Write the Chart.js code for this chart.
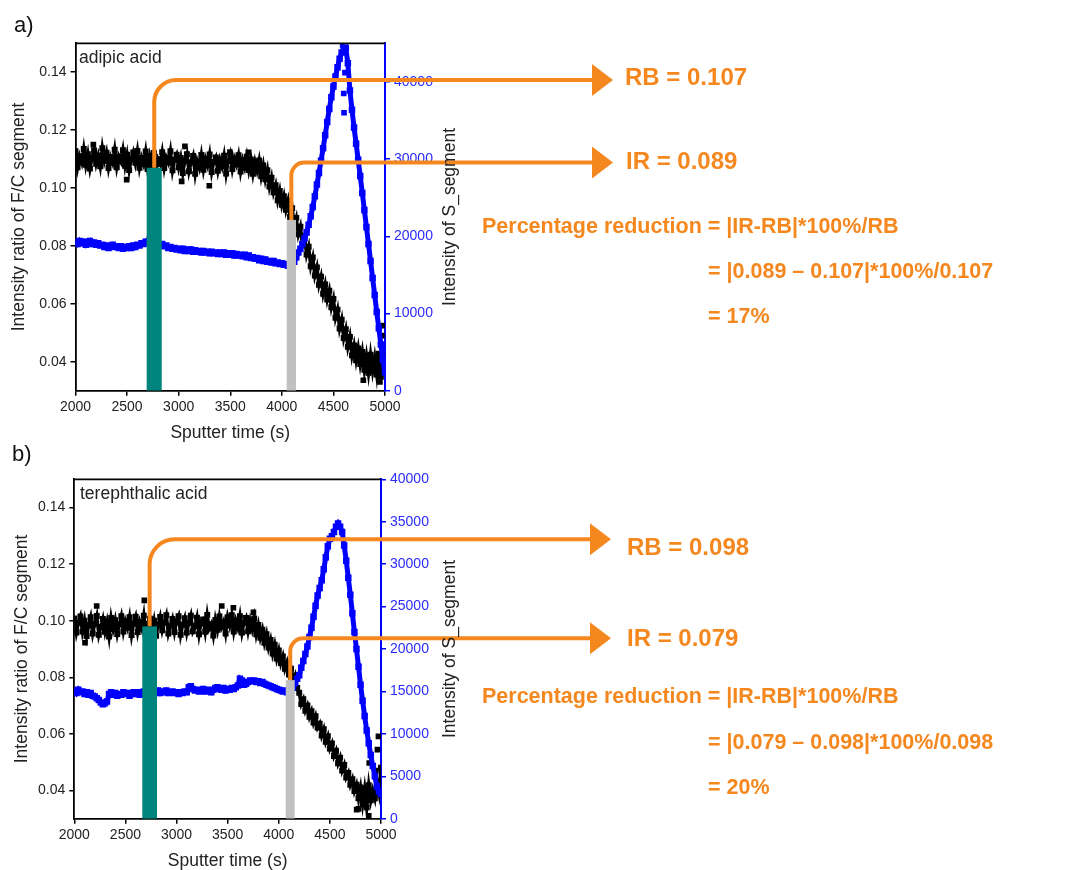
<!DOCTYPE html>
<html>
<head>
<meta charset="utf-8">
<script src="https://cdn.jsdelivr.net/npm/chart.js@4.4.1/dist/chart.umd.min.js"></script>
<style>
  body { margin: 0; background: #fff; }
  #wrap { position: relative; width: 1079px; height: 870px; }
  #wrap canvas { position: absolute; left: 0; }
</style>
</head>
<body>
<div id="wrap">
  <canvas id="panelA" width="1079" height="450" style="top:0"></canvas>
  <canvas id="panelB" width="1079" height="430" style="top:440px"></canvas>
</div>
<script>
const ORANGE = '#F5871F';
const TEAL = '#00857e';
const GREY = '#c0c0c0';
const BLUE = '#0000ff';
const FONT = '"Liberation Sans", Arial, sans-serif';

// one reading every 20 s of sputtering
const sputterTime = Array.from({ length: 151 }, (_, i) => 2000 + i * 20);

const xTicks = [2000, 2500, 3000, 3500, 4000, 4500, 5000];
const fcTicks = [0.04, 0.06, 0.08, 0.10, 0.12, 0.14];
const sTicksA = [0, 10000, 20000, 30000, 40000];
const sTicksB = [0, 5000, 10000, 15000, 20000, 25000, 30000, 35000, 40000];

// RB = ratio in the bulk, IR = ratio at the interface
const rbA = 0.107, irA = 0.089;
const rbB = 0.098, irB = 0.079;

// a) adipic acid: F/C ratio (x 10^4) and S_ intensity (counts)
const fcRatioA = [
  1127,1072,1110,1088,1135,1080,1117,1067,1104,1130,
  1084,1112,1075,1138,1094,1122,1069,1107,1087,1132,
  1072,1109,1092,1131,1077,1115,1062,1100,1123,1087,
  1128,1070,1105,1083,1126,1066,1110,1079,1121,1058,
  1100,1084,1124,1069,1106,1088,1127,1061,1098,1115,
  1072,1104,1052,1095,1117,1058,1089,1111,1049,1093,
  1070,1114,1063,1101,1078,1116,1055,1090,1106,1060,
  1098,1074,1112,1050,1093,1117,1066,1102,1081,1113,
  1057,1096,1071,1108,1062,1099,1049,1090,1060,1095,
  1041,1078,1030,1062,1005,1036,985,1010,958,990,
  942,972,925,955,900,930,872,897,840,866,
  806,833,770,797,730,760,698,726,666,694,
  635,667,615,645,588,617,552,580,515,545,
  482,512,452,486,422,456,405,446,392,434,
  372,420,362,424,368,414,356,428,348,420,
  365
];
const sIntensityA = [
  19300,19000,19400,19100,19300,18900,19200,19400,19000,19200,
  18900,19100,18800,18900,18600,18800,18500,18700,18900,18600,
  18700,18500,18700,18400,18600,18500,18700,18500,18800,18600,
  18900,18800,19100,19000,19300,19300,19600,19500,19700,19400,
  19200,18900,19000,18700,18800,18500,18600,18400,18500,18300,
  18400,18200,18400,18100,18300,18100,18300,18000,18200,18000,
  18100,17900,18100,17900,18000,17800,18000,17800,17900,17700,
  17900,17700,17900,17600,17800,17600,17800,17500,17700,17500,
  17600,17400,17600,17300,17500,17200,17300,17100,17200,16900,
  17100,16800,17000,16700,16800,16600,16800,16500,16600,16400,
  16500,16300,16400,16200,16300,16200,16700,17300,17900,18400,
  19000,19700,20500,21500,22600,23800,25200,26700,28200,29800,
  31400,33100,34800,36500,38000,39400,40700,41900,43000,43800,
  44200,44400,42400,38900,36400,34100,32000,29900,27800,25600,
  23400,21200,19000,16800,14600,12400,10200,8100,6000,4000,
  2400
];
const fcStrayA = [[2173, 0.1150], [2496, 0.1029], [3029, 0.1023], [3061, 0.1144], [3297, 0.1008],
  [3497, 0.1124], [3675, 0.1123], [4790, 0.0336], [4951, 0.0330], [4970, 0.0490], [4984, 0.0525]];
const sStrayA = [[4590, 44800], [4600, 38500], [4603, 36000], [4612, 41200]];

// b) terephthalic acid
const fcRatioB = [
  1008,958,993,1015,962,1000,946,984,1012,955,
  990,1017,950,978,1006,961,995,944,1010,970,
  1002,953,987,1016,962,998,975,1012,949,991,
  1014,960,996,972,1018,951,989,1007,964,1000,
  947,985,1013,966,994,1019,955,982,1006,960,
  998,1016,950,986,1009,958,993,1018,963,980,
  1011,952,995,1004,961,1020,972,988,948,1003,
  968,1015,977,996,955,1012,983,1019,962,1000,
  975,1016,958,994,1010,963,1001,970,1008,952,
  985,940,968,922,952,905,932,884,915,866,
  895,850,874,830,852,810,830,786,806,762,
  745,705,722,682,700,660,680,640,662,622,
  636,594,616,572,592,548,566,522,540,496,
  516,470,490,446,462,420,440,398,420,372,
  410,352,405,340,418,365,400,372,432,392,
  480
];
const sIntensityB = [
  15100,14800,15200,14900,15000,14700,14900,14600,14800,14500,
  14400,14200,14000,13700,13500,13600,13800,14700,14900,14600,
  14800,14500,14700,14600,14900,14700,14800,14500,14700,14900,
  14700,14900,14600,14800,15000,14800,14700,14900,15000,14800,
  14900,15100,14800,15000,14900,15100,14800,14900,15000,14800,
  14900,14700,14900,14800,15000,14900,15500,15600,15300,15100,
  15200,15000,15100,15300,15000,15200,15100,14900,15200,15400,
  15500,15300,15200,15400,15100,15300,15200,15400,15300,15500,
  15700,16500,16300,15800,15900,16100,16300,16200,16300,16100,
  16200,16000,16100,15900,15800,15700,15600,15500,15400,15300,
  15200,15100,15000,15100,14900,14900,15100,15500,16000,16500,
  16900,17800,18600,19400,20300,21400,22500,23800,25100,26300,
  27200,28100,29400,30800,32100,33000,33300,33800,34400,34800,
  34400,33800,32200,30400,28400,26400,24200,22000,20000,17900,
  15800,13900,12100,10400,8900,7500,6200,5000,3800,3200,
  2900
];
const fcStrayB = [[2105, 0.0922], [2219, 0.1052], [2685, 0.1072], [3442, 0.1052], [3556, 0.1046],
  [3752, 0.1030], [4762, 0.0332], [4780, 0.0335], [4880, 0.0310], [4885, 0.0497],
  [4950, 0.0470], [4965, 0.0544], [4975, 0.0591]];
const sStrayB = [];

// bars, arrows and the worked percentage for each panel
const overlay = {
  id: 'overlay',
  afterDatasetsDraw(chart, args, o) {
    const { ctx, chartArea: ca } = chart;
    const x = chart.scales.x, y = chart.scales.y;

    ctx.save();
    ctx.beginPath();
    ctx.rect(ca.left, ca.top, ca.right - ca.left, ca.bottom - ca.top);
    ctx.clip();
    for (const b of o.bars) {
      const x0 = x.getPixelForValue(b.from);
      const x1 = x.getPixelForValue(b.to);
      const top = y.getPixelForValue(b.value);
      ctx.fillStyle = b.color;
      ctx.fillRect(x0, top, x1 - x0, ca.bottom - top);
    }
    ctx.restore();

    ctx.save();
    // top edge of the frame
    ctx.strokeStyle = '#000';
    ctx.lineWidth = 1.8;
    ctx.beginPath();
    ctx.moveTo(ca.left, ca.top);
    ctx.lineTo(ca.right, ca.top);
    ctx.stroke();

    ctx.strokeStyle = ORANGE;
    ctx.fillStyle = ORANGE;
    ctx.lineWidth = 4;
    for (const l of o.leaders) {
      const px = x.getPixelForValue(l.x);
      const y0 = y.getPixelForValue(l.from);
      const yh = y.getPixelForValue(l.level);
      ctx.beginPath();
      ctx.moveTo(px, y0);
      ctx.arcTo(px, yh, px + l.r, yh, l.r);
      ctx.lineTo(o.arrowAt, yh);
      ctx.stroke();
      ctx.beginPath();
      ctx.moveTo(o.arrowAt, yh - 16);
      ctx.lineTo(o.arrowAt + 21, yh);
      ctx.lineTo(o.arrowAt, yh + 16);
      ctx.closePath();
      ctx.fill();
    }

    ctx.textBaseline = 'middle';
    ctx.textAlign = 'left';
    for (const t of o.texts) {
      ctx.font = (t.bold ? 'bold ' : '') + t.size + 'px ' + FONT;
      ctx.fillStyle = t.color || ORANGE;
      ctx.fillText(t.text, t.x, t.y);
    }

    // right axis title, reading upwards like the left one
    ctx.save();
    ctx.translate(o.rightTitleX, (ca.top + ca.bottom) / 2);
    ctx.rotate(-Math.PI / 2);
    ctx.textAlign = 'center';
    ctx.font = '17.5px ' + FONT;
    ctx.fillStyle = '#222';
    ctx.fillText('Intensity of S_segment', 0, 0);
    ctx.restore();
    ctx.restore();
  }
};

function toPoints(values, scale) {
  return values.map((v, i) => ({ x: sputterTime[i], y: v * scale }));
}

function makePanel(id, p) {
  const ctx = document.getElementById(id).getContext('2d');
  const h = ctx.canvas.height;
  return new Chart(ctx, {
    type: 'scatter',
    data: {
      datasets: [
        {
          data: toPoints(p.s, 1), yAxisID: 'y1', order: 0,
          showLine: true, borderColor: BLUE, borderWidth: 5,
          pointStyle: 'rect', pointRadius: 4.6, pointBorderWidth: 0, pointBackgroundColor: BLUE
        },
        {
          data: p.sStray.map(([x, y]) => ({ x, y })), yAxisID: 'y1', order: 0,
          pointStyle: 'rect', pointRadius: 4, pointBorderWidth: 0, pointBackgroundColor: BLUE
        },
        {
          data: toPoints(p.fc, 1e-4), yAxisID: 'y', order: 1,
          showLine: true, borderColor: '#000', borderWidth: 3.5,
          pointStyle: 'rect', pointRadius: 4.2, pointBorderWidth: 0, pointBackgroundColor: '#000'
        },
        {
          data: p.fcStray.map(([x, y]) => ({ x, y })), yAxisID: 'y', order: 1,
          pointStyle: 'rect', pointRadius: 4, pointBorderWidth: 0, pointBackgroundColor: '#000'
        }
      ]
    },
    options: {
      responsive: false,
      animation: false,
      devicePixelRatio: 1,
      events: [],
      layout: {
        padding: { top: p.top, left: 0, right: 1079 - p.right - 70, bottom: h - p.bottom - 50.75 }
      },
      plugins: {
        legend: { display: false },
        tooltip: { enabled: false },
        overlay: p.overlay
      },
      scales: {
        x: {
          type: 'linear', min: 2000, max: 5000,
          afterBuildTicks: s => { s.ticks = xTicks.map(v => ({ value: v })); },
          afterFit: s => { s.height = 50.75; },
          border: { display: true, color: '#000', width: 1.8 },
          grid: { drawOnChartArea: false, drawTicks: true, tickLength: 5, color: '#000', lineWidth: 1.5 },
          ticks: { color: '#222', font: { family: FONT, size: 14 }, padding: 3, maxRotation: 0,
                   callback: v => String(v) },
          title: { display: true, text: 'Sputter time (s)', color: '#222',
                   font: { family: FONT, size: 17.5, lineHeight: 1 }, padding: { top: 0, bottom: 0 } }
        },
        y: {
          position: 'left', min: 0.03, max: 0.15,
          afterBuildTicks: s => { s.ticks = fcTicks.map(v => ({ value: v })); },
          afterFit: s => { s.width = p.left; },
          border: { display: true, color: '#000', width: 1.8 },
          grid: { drawOnChartArea: false, drawTicks: true, tickLength: 5, color: '#000', lineWidth: 1.5 },
          ticks: { color: '#222', font: { family: FONT, size: 14 }, padding: 4,
                   callback: v => v.toFixed(2) },
          title: { display: true, text: 'Intensity ratio of F/C segment', color: '#222',
                   font: { family: FONT, size: 17.5, lineHeight: 1.2 }, padding: { top: p.titlePad, bottom: 0 } }
        },
        y1: {
          position: 'right', min: 0, max: p.sMax,
          afterBuildTicks: s => { s.ticks = p.sTicks.map(v => ({ value: v })); },
          afterFit: s => { s.width = 70; },
          border: { display: true, color: BLUE, width: 2 },
          grid: { drawOnChartArea: false, drawTicks: true, tickLength: 5, color: BLUE, lineWidth: 1.5 },
          ticks: { color: '#2a2aff', font: { family: FONT, size: 14 }, padding: 4,
                   callback: v => String(v) }
        }
      }
    },
    plugins: [overlay]
  });
}

makePanel('panelA', {
  left: 75.5, right: 385, top: 43.3, bottom: 390.7, titlePad: 8.5,
  fc: fcRatioA, s: sIntensityA, fcStray: fcStrayA, sStray: sStrayA,
  sMax: 45000, sTicks: sTicksA,
  overlay: {
    arrowAt: 592, rightTitleX: 450,
    bars: [
      { from: 2690, to: 2836, value: rbA, color: TEAL },
      { from: 4047, to: 4137, value: irA, color: GREY }
    ],
    leaders: [
      { x: 2763, from: rbA, level: 0.1373, r: 22 },
      { x: 4092, from: irA, level: 0.1088, r: 13 }
    ],
    texts: [
      { text: 'a)', x: 14, y: 26, size: 22, color: '#111' },
      { text: 'adipic acid', x: 79, y: 58, size: 17.5, color: '#222' },
      { text: 'RB = ' + rbA.toFixed(3), x: 625, y: 78, size: 24, bold: true },
      { text: 'IR = ' + irA.toFixed(3), x: 626, y: 162, size: 24, bold: true },
      { text: 'Percentage reduction = |IR-RB|*100%/RB', x: 482, y: 227, size: 21.5, bold: true },
      { text: '= |0.089 – 0.107|*100%/0.107', x: 708, y: 272, size: 21.5, bold: true },
      { text: '= 17%', x: 708, y: 317, size: 21.5, bold: true }
    ]
  }
});

makePanel('panelB', {
  left: 74.3, right: 381, top: 39.3, bottom: 378.7, titlePad: 12,
  fc: fcRatioB, s: sIntensityB, fcStray: fcStrayB, sStray: sStrayB,
  sMax: 40000, sTicks: sTicksB,
  overlay: {
    arrowAt: 590, rightTitleX: 450,
    bars: [
      { from: 2665, to: 2809, value: rbB, color: TEAL },
      { from: 4068, to: 4156, value: irB, color: GREY }
    ],
    leaders: [
      { x: 2737, from: rbB, level: 0.1288, r: 25 },
      { x: 4112, from: irB, level: 0.0938, r: 13 }
    ],
    texts: [
      { text: 'b)', x: 12, y: 15, size: 22, color: '#111' },
      { text: 'terephthalic acid', x: 80, y: 54, size: 17.5, color: '#222' },
      { text: 'RB = ' + rbB.toFixed(3), x: 627, y: 108, size: 24, bold: true },
      { text: 'IR = ' + irB.toFixed(3), x: 627, y: 199, size: 24, bold: true },
      { text: 'Percentage reduction = |IR-RB|*100%/RB', x: 482, y: 257, size: 21.5, bold: true },
      { text: '= |0.079 – 0.098|*100%/0.098', x: 708, y: 303, size: 21.5, bold: true },
      { text: '= 20%', x: 708, y: 348, size: 21.5, bold: true }
    ]
  }
});
</script>
</body>
</html>
